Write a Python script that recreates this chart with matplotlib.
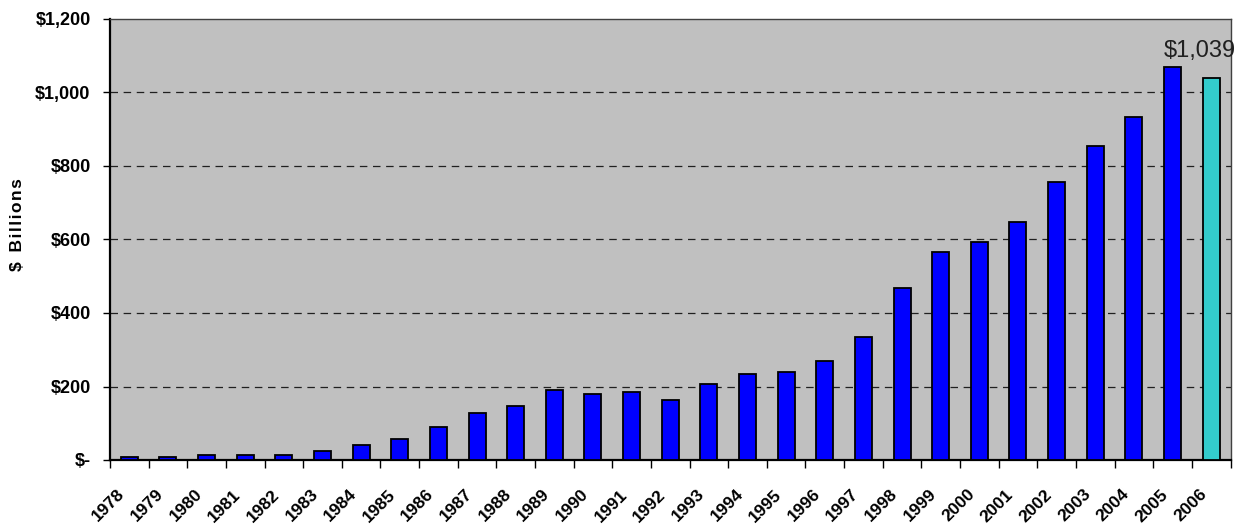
import numpy as np
import matplotlib
matplotlib.use("Agg")
import matplotlib.pyplot as plt
import matplotlib.transforms as mtransforms

plt.rcParams['font.family'] = ['Liberation Sans', 'DejaVu Sans']

years = [str(y) for y in range(1978, 2007)]
values = [9, 9, 14, 14, 14, 25, 42, 58, 89, 127, 147, 190, 180, 185, 163,
          207, 233, 239, 270, 335, 468, 566, 593, 647, 757, 854, 934, 1070, 1039]
colors = ['#0000FF'] * (len(years) - 1) + ['#33CCCC']
yticks = [0, 200, 400, 600, 800, 1000, 1200]
ytick_labels = ['$-', '$200', '$400', '$600', '$800', '$1,000', '$1,200']
note = '$1,039'

fig = plt.figure(figsize=(12.45, 5.29), dpi=100)
ax = fig.add_axes([110 / 1245, 1 - 460 / 529, (1230.5 - 110) / 1245, (460 - 19) / 529])
ax.set_facecolor('#C0C0C0')

x = np.arange(len(years))
ax.bar(x, values, width=0.44, color=colors, edgecolor='black', linewidth=1.3, zorder=3)

ax.set_xlim(-0.5, len(years) - 0.5)
ax.set_ylim(0, 1200)

# gridlines
for v in yticks[1:-1]:
    ax.axhline(v, color='#202020', linestyle=(0, (6, 4.5)), linewidth=0.9, zorder=1)

ax.set_yticks(yticks)
ax.set_yticklabels(ytick_labels, fontsize=13, fontweight='bold')
ax.tick_params(axis='y', direction='out', length=5, width=1, pad=9)

ax.set_xticks(np.arange(len(years) + 1) - 0.5)
ax.set_xticklabels([])
ax.set_xticks(x, minor=True)
ax.set_xticklabels(years, minor=True, rotation=45, ha='right', va='center',
                   rotation_mode='anchor', fontsize=12.5, fontweight='bold')
ax.tick_params(axis='x', which='major', direction='out', length=6, width=1)
ax.tick_params(axis='x', which='minor', length=0, pad=23)
shift = mtransforms.ScaledTranslation(-7 / 100, 0, fig.dpi_scale_trans)
for lab in ax.get_xticklabels(minor=True):
    lab.set_transform(lab.get_transform() + shift)

for s in ['left', 'bottom']:
    ax.spines[s].set_linewidth(1.6)
    ax.spines[s].set_color('black')
for s in ['top', 'right']:
    ax.spines[s].set_linewidth(1.0)
    ax.spines[s].set_color('#404040')

# slightly spaced-out axis title like the original
ax.set_ylabel('$  B\u200ai\u200al\u200al\u200ai\u200ao\u200an\u200as',
              fontsize=12.5, fontweight='bold')
ax.yaxis.set_label_coords(-85 / 1120, 0.535)

ax.text(x[-1] - 0.3, values[-1] + 45, note, ha='center', va='bottom', fontsize=17,
        color='#202020', zorder=4)

fig.savefig('out.png', dpi=100)
